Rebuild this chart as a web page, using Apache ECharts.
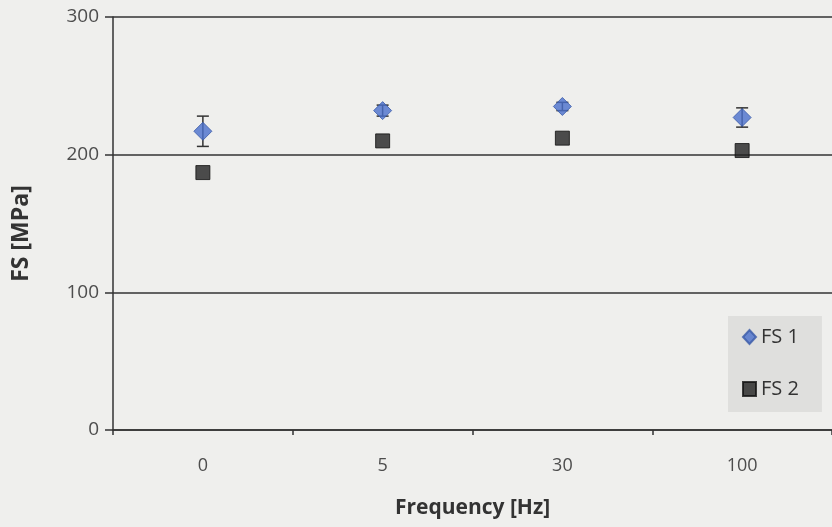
<!DOCTYPE html>
<html>
<head>
<meta charset="utf-8">
<script src="https://cdn.jsdelivr.net/npm/echarts@6/dist/echarts.min.js"></script>
<style>
  html, body { margin: 0; padding: 0; background: #efefed; }
  #chart { width: 832px; height: 527px; }
</style>
</head>
<body>
<div id="chart"></div>
<script>
// Flexural strength at each loading frequency
const frequencies = ['0', '5', '30', '100'];
const fs1 = [217, 232, 235, 227];
const fs1Err = [11, 4, 3, 7];
const fs2 = [187, 210, 212, 203];
const yTicks = [0, 100, 200, 300];

const chart = echarts.init(document.getElementById('chart'));

const errData = fs1.map((v, i) => [i, v - fs1Err[i], v + fs1Err[i]]);

chart.setOption({
  backgroundColor: '#efefed',
  animation: false,
  grid: { left: 113, right: 0, top: 17, bottom: 97, containLabel: false },
  legend: {
    orient: 'vertical',
    left: 728,
    top: 316,
    backgroundColor: '#dfdfdd',
    padding: [10, 23, 12, 14],
    itemGap: 30,
    itemWidth: 13,
    itemHeight: 14,
    textStyle: { fontFamily: 'Open Sans', fontSize: 20, lineHeight: 22, color: '#333' },
    data: [
      { name: 'FS 1', icon: 'diamond' },
      { name: 'FS 2', icon: 'rect' }
    ]
  },
  xAxis: {
    type: 'category',
    data: frequencies,
    boundaryGap: true,
    name: 'Frequency [Hz]',
    nameLocation: 'middle',
    nameGap: 68,
    nameTextStyle: { fontFamily: 'Open Sans', fontSize: 21, fontWeight: 'bold', color: '#333' },
    axisLine: { lineStyle: { color: '#333', width: 1.5 } },
    axisTick: { show: true, alignWithLabel: false, length: 5, lineStyle: { color: '#333', width: 1.5 } },
    axisLabel: { margin: 27, fontFamily: 'Open Sans', fontSize: 18, color: '#4d4d4d' },
    splitLine: { show: false }
  },
  yAxis: {
    type: 'value',
    min: yTicks[0],
    max: yTicks[yTicks.length - 1],
    interval: 100,
    name: 'FS [MPa]',
    nameLocation: 'middle',
    nameGap: 80,
    nameTextStyle: { fontFamily: 'Open Sans', fontSize: 23, fontWeight: 'bold', color: '#333', padding: [0, 20, 0, 0] },
    axisLine: { show: true, lineStyle: { color: '#333', width: 1.5 } },
    axisTick: { show: true, length: 8, lineStyle: { color: '#333', width: 1.5 } },
    axisLabel: { margin: 14, fontFamily: 'Open Sans', fontSize: 19, color: '#4d4d4d' },
    splitLine: { show: true, lineStyle: { color: '#333', width: 1.5 } }
  },
  series: [
    {
      name: 'FS 1 error',
      type: 'custom',
      z: 1,
      data: errData,
      renderItem: function (params, api) {
        const x = api.value(0);
        const lo = api.coord([x, api.value(1)]);
        const hi = api.coord([x, api.value(2)]);
        const w = 6;
        const style = { stroke: '#333', lineWidth: 1.5 };
        return {
          type: 'group',
          children: [
            { type: 'line', shape: { x1: lo[0], y1: lo[1], x2: hi[0], y2: hi[1] }, style },
            { type: 'line', shape: { x1: lo[0] - w, y1: lo[1], x2: lo[0] + w, y2: lo[1] }, style },
            { type: 'line', shape: { x1: hi[0] - w, y1: hi[1], x2: hi[0] + w, y2: hi[1] }, style }
          ]
        };
      }
    },
    {
      name: 'FS 1',
      type: 'scatter',
      z: 3,
      symbol: 'diamond',
      symbolSize: [18, 18],
      itemStyle: { color: '#4a6fcc', borderColor: '#3a5aa8', borderWidth: 1 },
      data: fs1
    },
    {
      name: 'FS 2',
      type: 'scatter',
      z: 3,
      symbol: 'rect',
      symbolSize: 14,
      itemStyle: { color: '#222', borderColor: '#111', borderWidth: 1 },
      data: fs2
    }
  ]
});
</script>
</body>
</html>
